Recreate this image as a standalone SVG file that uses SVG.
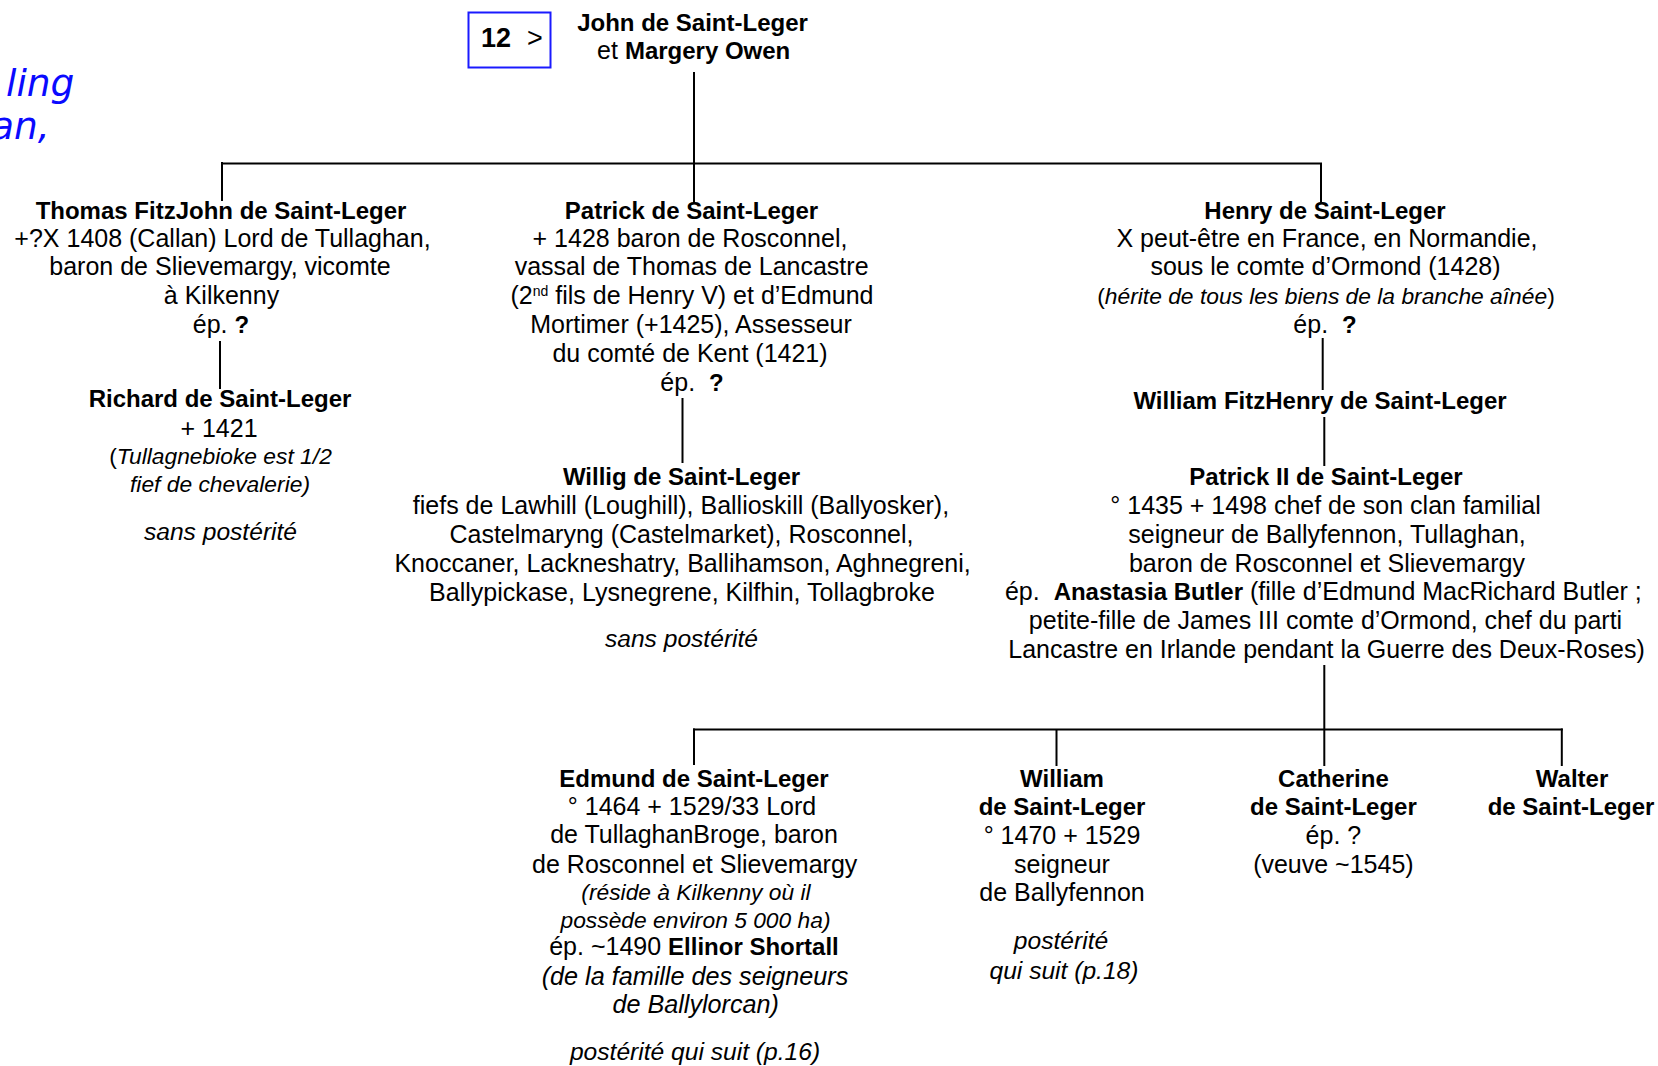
<svg xmlns="http://www.w3.org/2000/svg" width="1658" height="1066" viewBox="0 0 1658 1066">
<style>
text{font-family:"Liberation Sans",Arial,sans-serif;font-size:25px;text-anchor:middle;fill:#000}
.b{font-weight:bold;font-size:24px}
.i{font-style:italic;font-size:22.8px}
.il{font-style:italic;font-size:24.6px}
.blue{font-family:"DejaVu Sans",sans-serif;font-style:italic;font-size:37.5px;fill:#0a0aff;text-anchor:start}
.c{stroke:#000;stroke-width:2;fill:none}
</style>
<rect width="1658" height="1066" fill="#fff"/>
<g id="margin-text">
<text class="blue" x="6" y="96">ling</text>
<text class="blue" x="-9" y="139">an,</text>
</g>
<g id="connectors" class="c">
<line x1="694" y1="72" x2="694" y2="203"/>
<line x1="221" y1="163.5" x2="1322" y2="163.5"/>
<line x1="222" y1="162" x2="222" y2="201"/>
<line x1="1321" y1="163" x2="1321" y2="203"/>
<line x1="220" y1="341" x2="220" y2="389"/>
<line x1="682.5" y1="398" x2="682.5" y2="463"/>
<line x1="1322.7" y1="338" x2="1322.7" y2="390"/>
<line x1="1324.3" y1="417" x2="1324.3" y2="466"/>
<line x1="1324.3" y1="665" x2="1324.3" y2="766"/>
<line x1="693" y1="729.5" x2="1562.8" y2="729.5"/>
<line x1="694" y1="728.5" x2="694" y2="765"/>
<line x1="1056.5" y1="729" x2="1056.5" y2="766"/>
<line x1="1561.8" y1="728.5" x2="1561.8" y2="766"/>
</g>
<g id="nav-box">
<rect x="468.5" y="12.5" width="82" height="55" fill="none" stroke="#1a1aff" stroke-width="2"/>
<text class="b" x="481" y="47" style="text-anchor:start;font-size:27px">12</text>
<text x="527" y="46.5" style="text-anchor:start;font-size:27px">&gt;</text>
</g>
<g id="john">
<text class="b" x="692.5" y="31">John de Saint-Leger</text>
<text x="693.7" y="59">et <tspan class="b">Margery Owen</tspan></text>
</g>
<g id="thomas">
<text class="b" x="221" y="218.5">Thomas FitzJohn de Saint-Leger</text>
<text x="222.5" y="246.5">+?X 1408 (Callan) Lord de Tullaghan,</text>
<text x="220" y="275">baron de Slievemargy, vicomte</text>
<text x="221.5" y="304">à Kilkenny</text>
<text x="221" y="333">ép. <tspan class="b">?</tspan></text>
</g>
<g id="richard">
<text class="b" x="220" y="406.5">Richard de Saint-Leger</text>
<text x="219" y="437">+ 1421</text>
<text x="220.5" y="464" style="font-size:22.8px">(<tspan class="i">Tullagnebioke est 1/2</tspan></text>
<text class="i" x="220" y="491.5">fief de chevalerie)</text>
<text class="il" x="220.5" y="540">sans postérité</text>
</g>
<g id="patrick">
<text class="b" x="691.5" y="218.5">Patrick de Saint-Leger</text>
<text x="690" y="246.5">+ 1428 baron de Rosconnel,</text>
<text x="691.6" y="275">vassal de Thomas de Lancastre</text>
<text x="692" y="304">(2<tspan dy="-8" style="font-size:14px">nd</tspan><tspan dy="8"> fils de Henry V) et d’Edmund</tspan></text>
<text x="691" y="333">Mortimer (+1425), Assesseur</text>
<text x="690" y="362">du comté de Kent (1421)</text>
<text x="692" y="391">ép.&#160; <tspan class="b">?</tspan></text>
</g>
<g id="willig">
<text class="b" x="681.5" y="485">Willig de Saint-Leger</text>
<text x="681" y="514">fiefs de Lawhill (Loughill), Ballioskill (Ballyosker),</text>
<text x="681.5" y="543">Castelmaryng (Castelmarket), Rosconnel,</text>
<text x="682.6" y="572">Knoccaner, Lackneshatry, Ballihamson, Aghnegreni,</text>
<text x="682" y="600.7">Ballypickase, Lysnegrene, Kilfhin, Tollagbroke</text>
<text class="il" x="681.5" y="647">sans postérité</text>
</g>
<g id="henry">
<text class="b" x="1325" y="218.5">Henry de Saint-Leger</text>
<text x="1327" y="246.5">X peut-être en France, en Normandie,</text>
<text x="1325.5" y="275">sous le comte d’Ormond (1428)</text>
<text x="1326" y="304" style="font-size:22.8px">(<tspan class="i">hérite de tous les biens de la branche aînée</tspan>)</text>
<text x="1325" y="333">ép.&#160; <tspan class="b">?</tspan></text>
</g>
<g id="william-fitzhenry">
<text class="b" x="1320" y="408.5">William FitzHenry de Saint-Leger</text>
</g>
<g id="patrick-ii">
<text class="b" x="1326" y="484.5">Patrick II de Saint-Leger</text>
<text x="1325.5" y="514">° 1435 + 1498 chef de son clan familial</text>
<text x="1327" y="543">seigneur de Ballyfennon, Tullaghan,</text>
<text x="1327" y="572">baron de Rosconnel et Slievemargy</text>
<text x="1323.4" y="600">ép.&#160; <tspan class="b">Anastasia Butler</tspan> (fille d’Edmund MacRichard Butler ;</text>
<text x="1325.5" y="629">petite-fille de James III comte d’Ormond, chef du parti</text>
<text x="1326.5" y="658">Lancastre en Irlande pendant la Guerre des Deux-Roses)</text>
</g>
<g id="edmund">
<text class="b" x="694" y="787.3">Edmund de Saint-Leger</text>
<text x="692" y="815">° 1464 + 1529/33 Lord</text>
<text x="694" y="843.3">de TullaghanBroge, baron</text>
<text x="694.7" y="872.7">de Rosconnel et Slievemargy</text>
<text class="i" x="696" y="900">(réside à Kilkenny où il</text>
<text class="i" x="695.5" y="927.5">possède environ 5 000 ha)</text>
<text x="694" y="955">ép. ~1490 <tspan class="b">Ellinor Shortall</tspan></text>
<text class="il" x="695" y="985" style="font-size:25.2px">(de la famille des seigneurs</text>
<text class="il" x="695.7" y="1013.3" style="font-size:25.2px">de Ballylorcan)</text>
<text class="il" x="695" y="1060">postérité qui suit (p.16)</text>
</g>
<g id="william">
<text class="b" x="1062" y="787">William</text>
<text class="b" x="1062" y="815">de Saint-Leger</text>
<text x="1062" y="843.5">° 1470 + 1529</text>
<text x="1062" y="872.5">seigneur</text>
<text x="1062" y="901">de Ballyfennon</text>
<text class="il" x="1061" y="948.5">postérité</text>
<text class="il" x="1064" y="979">qui suit (p.18)</text>
</g>
<g id="catherine">
<text class="b" x="1333.4" y="787">Catherine</text>
<text class="b" x="1333.4" y="815">de Saint-Leger</text>
<text x="1333.4" y="843.5">ép. ?</text>
<text x="1333.4" y="872.5">(veuve ~1545)</text>
</g>
<g id="walter">
<text class="b" x="1572" y="787">Walter</text>
<text class="b" x="1571" y="815">de Saint-Leger</text>
</g>
</svg>
